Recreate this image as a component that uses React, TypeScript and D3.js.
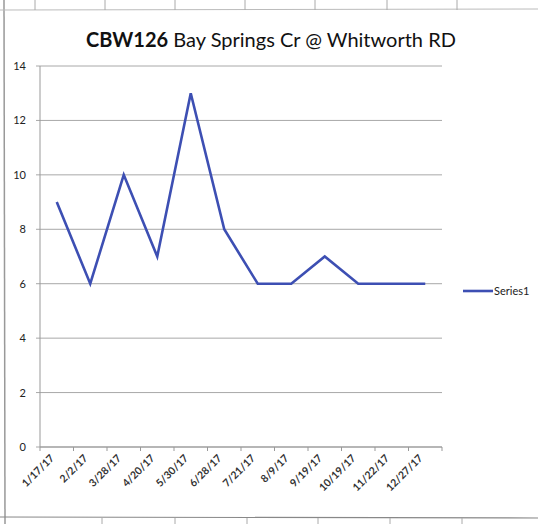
import React from "react";
import * as d3 from "d3";

const categories = ["1/17/17", "2/2/17", "3/28/17", "4/20/17", "5/30/17", "6/28/17", "7/21/17", "8/9/17", "9/19/17", "10/19/17", "11/22/17", "12/27/17"];
const series1 = [9, 6, 10, 7, 13, 8, 6, 6, 7, 6, 6, 6];
const yTicks = [0, 2, 4, 6, 8, 10, 12, 14];
const seriesName = "Series1";
const titleBold = "CBW126";
const titleRest = " Bay Springs Cr @ Whitworth RD";
const scanTopTicks = [35, 105, 175, 245, 315, 387, 457];
const scanBottomTicks = [102, 175, 247, 318, 390, 462];

export default function App() {
  const W = 538, H = 524;
  const left = 40, right = 442, top = 66, bottom = 447;
  const x = d3.scaleBand<string>().domain(categories).range([left, right]);
  const y = d3.scaleLinear().domain([0, 14]).range([bottom, top]);
  const line = d3.line<number>()
    .x((_, i) => (x(categories[i]) as number) + x.bandwidth() / 2)
    .y((d) => y(d));
  const color = "#3d4fb3";
  const font = "Lato, 'Open Sans', 'DejaVu Sans', sans-serif";
  return (
    <svg width={W} height={H} style={{ position: "absolute", left: 0, top: 0, background: "#fff" }}>
      {/* scan spreadsheet borders */}
      <line x1={4} y1={0} x2={5} y2={H} stroke="#999" strokeWidth={1.5} />
      <line x1={0} y1={10} x2={W} y2={9} stroke="#bbb" strokeWidth={1} />
      {scanTopTicks.map((t) => (
        <line key={"tt" + t} x1={t} y1={0} x2={t} y2={10} stroke="#aaa" strokeWidth={1} />
      ))}
      <line x1={0} y1={517} x2={W} y2={518} stroke="#888" strokeWidth={1.2} />
      {scanBottomTicks.map((t) => (
        <line key={"bt" + t} x1={t} y1={518} x2={t} y2={H} stroke="#aaa" strokeWidth={1} />
      ))}
      <text x={271} y={47} textAnchor="middle" fontFamily={font} fontSize={20} fill="#111">
        <tspan fontWeight="bold">{titleBold}</tspan>
        <tspan>{titleRest}</tspan>
      </text>
      {yTicks.map((t) => (
        <g key={t}>
          <line x1={left - 4} x2={right} y1={y(t)} y2={y(t)} stroke="#a8a8a8" strokeWidth={1} />
          <text x={26} y={y(t) + 4} textAnchor="end" fontFamily={font} fontSize={11} fill="#222">{t}</text>
        </g>
      ))}
      <line x1={left} x2={left} y1={top} y2={bottom} stroke="#999" strokeWidth={1} />
      <line x1={left} x2={right} y1={bottom} y2={bottom} stroke="#999" strokeWidth={1} />
      {categories.map((c, i) => {
        const cx = (x(c) as number);
        const mx = cx + x.bandwidth() / 2;
        return (
          <g key={c}>
            <line x1={cx} x2={cx} y1={bottom} y2={bottom + 4} stroke="#999" />
            {i === categories.length - 1 && (
              <line x1={right} x2={right} y1={bottom} y2={bottom + 4} stroke="#999" />
            )}
            <text
              transform={`translate(${mx - 2},${bottom + 12}) rotate(-45)`}
              textAnchor="end"
              fontFamily={font}
              fontSize={10.5}
              fontWeight="bold"
              fill="#333"
            >{c}</text>
          </g>
        );
      })}
      <path d={line(series1) || ""} fill="none" stroke={color} strokeWidth={2.6} strokeLinejoin="miter" />
      <line x1={463} x2={493} y1={291} y2={291} stroke={color} strokeWidth={2.6} />
      <text x={494} y={295} fontFamily={font} fontSize={11} fill="#222">{seriesName}</text>
    </svg>
  );
}
